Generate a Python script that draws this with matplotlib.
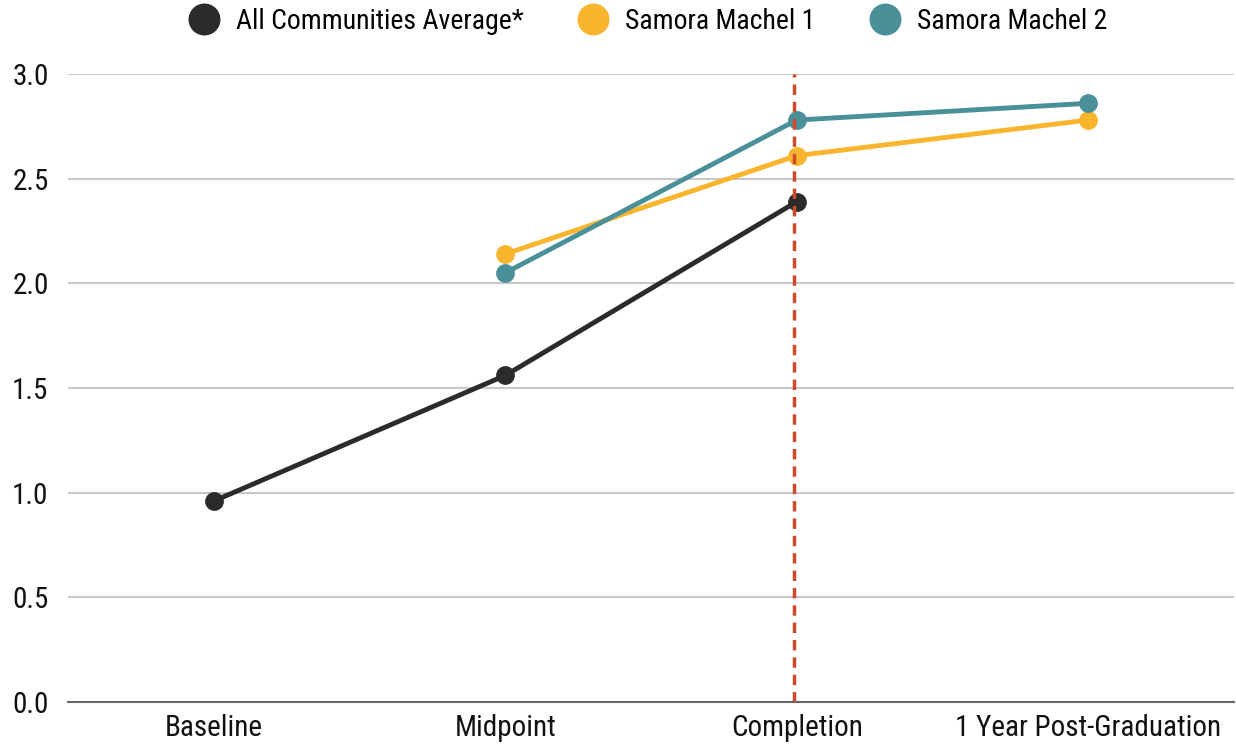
import matplotlib
matplotlib.use("Agg")
import matplotlib.pyplot as plt
from matplotlib.lines import Line2D
from matplotlib import font_manager

names = {f.name for f in font_manager.fontManager.ttflist}
fam = ['Roboto Condensed', 'Roboto', 'DejaVu Sans'] if 'Roboto Condensed' in names else ['Roboto', 'DejaVu Sans']
plt.rcParams['font.family'] = fam

categories = ["Baseline", "Midpoint", "Completion", "1 Year Post-Graduation"]
all_avg = [0.96, 1.56, 2.39, None]
samora1 = [None, 2.14, 2.61, 2.78]
samora2 = [None, 2.05, 2.78, 2.86]
series_names = ["All Communities Average*", "Samora Machel 1", "Samora Machel 2"]
colors = ["#2b2b2b", "#F9B52D", "#4A9098"]
yticks = [0.0, 0.5, 1.0, 1.5, 2.0, 2.5, 3.0]
marker_x = 1.99

fig = plt.figure(figsize=(12.36, 7.47), dpi=100)
ax = fig.add_axes([68/1236, 45/747, (1234-68)/1236, (702-74)/747])

for vals, c in zip([all_avg, samora1, samora2], colors):
    xs = [i for i, v in enumerate(vals) if v is not None]
    ys = [v for v in vals if v is not None]
    ax.plot(xs, ys, color=c, lw=3.5, marker='o', ms=12.5, zorder=3, solid_capstyle='round')

ax.axvline(marker_x, color="#D04A2A", lw=2.5, ls=(0, (3, 2)), zorder=4)

ax.set_xlim(-0.5, 3.5)
ax.set_ylim(0, 3)
ax.set_yticks(yticks)
ax.set_yticklabels([f"{t:.1f}" for t in yticks])
ax.set_xticks(range(len(categories)))
ax.set_xticklabels(categories)
ax.tick_params(axis='both', length=0, labelsize=21, colors="#111111")
ax.tick_params(axis='y', pad=14)
ax.tick_params(axis='x', pad=9)
ax.grid(axis='y', color="#c8c8c8", lw=1.5)
ax.set_axisbelow(True)
for s in ['top', 'right', 'left']:
    ax.spines[s].set_visible(False)
ax.spines['bottom'].set_color("#666666")
ax.spines['bottom'].set_linewidth(1.5)

handles = [Line2D([], [], ls='none', marker='o', ms=22, color=c) for c in colors]
fig.legend(handles, series_names, loc='upper center', bbox_to_anchor=(0.519, 1.023),
           ncol=3, frameon=False, fontsize=20, handletextpad=0.15, columnspacing=1.5)

fig.savefig("out.png", dpi=100)
